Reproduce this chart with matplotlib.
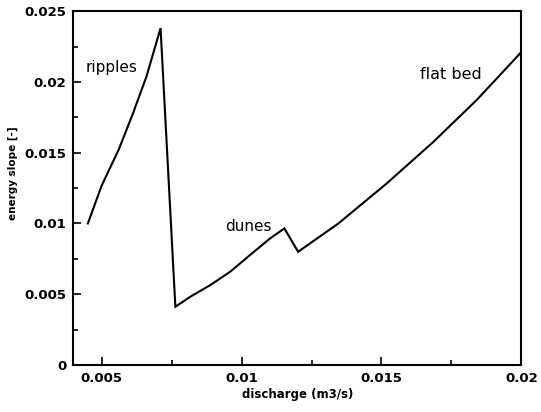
import matplotlib.pyplot as plt
from matplotlib.ticker import MultipleLocator, FixedFormatter, FixedLocator

# energy slope vs discharge for the three bed forms
ripples_q = [0.0045, 0.0050, 0.0056, 0.0061, 0.0066, 0.0071]
ripples_s = [0.0100, 0.0127, 0.0152, 0.0177, 0.0204, 0.0238]
dunes_q = [0.00763, 0.00817, 0.00888, 0.00959, 0.0103, 0.01102, 0.01153]
dunes_s = [0.00412, 0.00483, 0.00565, 0.00659, 0.00777, 0.00895, 0.00965]
flat_q = [0.01202, 0.01346, 0.01519, 0.01686, 0.0184, 0.0200]
flat_s = [0.0080, 0.0100, 0.01283, 0.01577, 0.01871, 0.0221]

x_ticks = [0.005, 0.01, 0.015, 0.02]
x_labels = ["0.005", "0.01", "0.015", "0.02"]
y_ticks = [0, 0.005, 0.01, 0.015, 0.02, 0.025]
y_labels = ["0", "0.005", "0.01", "0.015", "0.02", "0.025"]

q = ripples_q + dunes_q + flat_q
s = ripples_s + dunes_s + flat_s

fig = plt.figure(figsize=(5.41, 4.12), dpi=100)
ax = fig.add_axes([0.1355, 0.114, 0.828, 0.859])

ax.plot(q, s, color="black", lw=1.5, solid_joinstyle="miter")

ax.set_xlim(0.00398, 0.02)
ax.set_ylim(0, 0.025)

ax.xaxis.set_major_locator(FixedLocator(x_ticks))
ax.xaxis.set_major_formatter(FixedFormatter(x_labels))
ax.yaxis.set_major_locator(FixedLocator(y_ticks))
ax.yaxis.set_major_formatter(FixedFormatter(y_labels))
ax.xaxis.set_minor_locator(FixedLocator([0.0075, 0.0125, 0.0175]))
ax.yaxis.set_minor_locator(MultipleLocator(0.0025))

ax.tick_params(which="both", direction="in", top=False, right=False, width=1.2)
ax.tick_params(which="major", length=6, labelsize=9.5, pad=5)
ax.tick_params(which="minor", length=3.5)
for lbl in ax.get_xticklabels() + ax.get_yticklabels():
    lbl.set_fontweight("bold")

for sp in ax.spines.values():
    sp.set_linewidth(1.5)

ax.set_xlabel("discharge (m3/s)", fontsize=8.5, fontweight="bold", labelpad=2)
ax.set_ylabel("energy slope [-]", fontsize=7.5, fontweight="bold")
ax.yaxis.set_label_coords(-0.124, 0.542)

ax.text(0.00443, 0.0210, "ripples", fontsize=11, va="center")
ax.text(0.00941, 0.00977, "dunes", fontsize=11, va="center")
ax.text(0.01637, 0.0205, "flat bed", fontsize=11.5, va="center")

fig.savefig("out.png", dpi=100)
